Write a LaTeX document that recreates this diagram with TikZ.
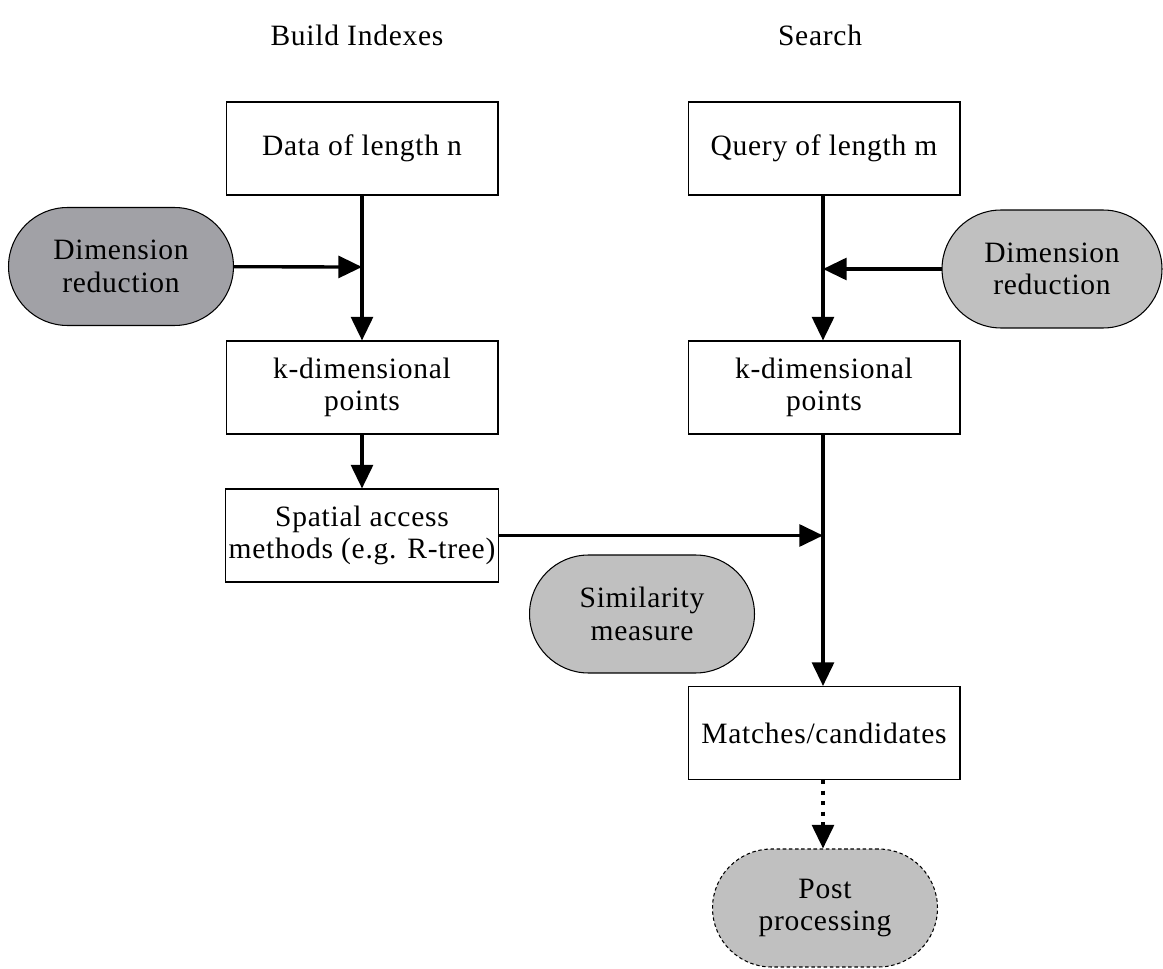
\documentclass[tikz,border=0pt]{standalone}
\usepackage{fontspec}
\setmainfont{Liberation Serif}[LetterSpace=2.5]
\usetikzlibrary{arrows.meta}

\tikzset{
  box/.style={draw, line width=0.6pt, minimum width=5.44cm, minimum height=1.86cm, inner xsep=2pt, align=center},
  pill/.style={draw, line width=0.6pt, fill=lightfill, minimum width=4.5cm, minimum height=2.36cm, rounded corners=1.18cm, align=center},
  flow/.style={-{Triangle[length=13.5pt, width=12.5pt]}, line width=1.9pt},
}
\definecolor{lightfill}{RGB}{192,192,192}
\definecolor{darkfill}{RGB}{161,161,166}

\begin{document}
\begin{tikzpicture}[x=0.02cm, y=-0.02cm, font=\fontsize{16.8}{18.5}\selectfont]
        \useasboundingbox (0,0) rectangle (1163,969);

        \node (build) at (357,35) {Build Indexes};
        \node (search) at (820,35) {Search};

        \node[box] (data) at (362,148.5) {Data of length n};
        \node[box] (query) at (824,148.5) {Query of length m};
        \node[pill, fill=darkfill] (dimL) at (121,266.5) {Dimension\\reduction};
        \node[pill, minimum width=4.4cm] (dimR) at (1052,269) {Dimension\\reduction};
        \node[box] (kdL) at (362,387.5) {k-dimensional\\points};
        \node[box] (kdR) at (824,387.5) {k-dimensional\\points};
        \node[box] (sam) at (362,535.5) {Spatial access\\methods (e.g. R-tree)};
        \node[pill] (sim) at (642,614) {Similarity\\measure};
        \node[box] (match) at (824,733) {Matches/candidates};
        \node[pill, dash pattern=on 2pt off 1.5pt] (post) at (825,908) {Post\\processing};

        \coordinate (jl) at (362,267);
        \coordinate (jr) at (823,269);
        \coordinate (js) at (823,535.5);

        \draw[flow] (data) -- (kdL);
        \draw[flow] (dimL) -- (jl);
        \draw[flow] (query.south -| jr) -- (kdR.north -| jr);
        \draw[flow] (dimR) -- (jr);
        \draw[flow] (kdL) -- (sam);
        \draw[flow] (sam) -- (js);
        \draw[flow] (kdR.south -| js) -- (match.north -| js);
        \draw[flow, dash pattern=on 2.5pt off 3.5pt] (match.south -| js) -- (post.north -| js);
      \end{tikzpicture}
\end{document}
